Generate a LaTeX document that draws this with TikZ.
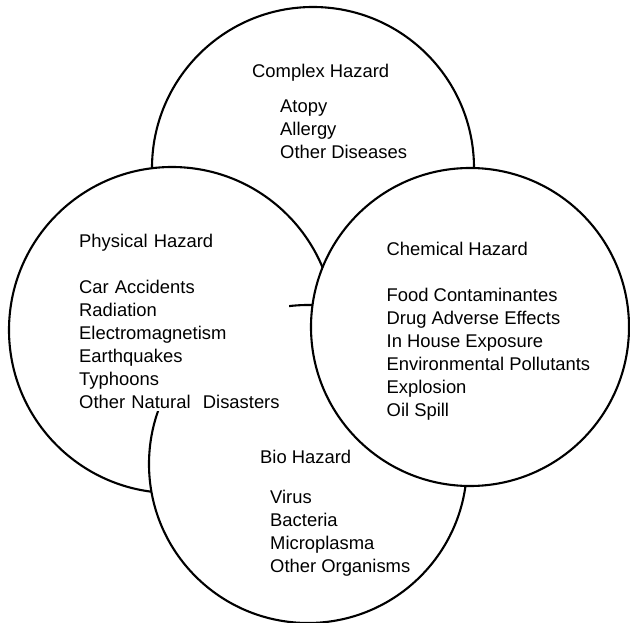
\documentclass[tikz,border=0pt]{standalone}
\usepackage{fontspec}
\setmainfont{Liberation Sans}
\begin{document}
\begin{tikzpicture}[x=1pt,y=-1pt,
  hazard/.style={circle, draw=black, fill=white, line width=2.1pt, inner sep=0pt, minimum size=#1},
  label/.style={font=\fontsize{18.4}{23}\selectfont, align=left, inner sep=0pt, anchor=base west},
]
\useasboundingbox (0,0) rectangle (630,623);
% the four hazard circles, stacked back to front
\node[hazard=322pt] (complex) at (313,168) {};
\node[hazard=326pt] (physical) at (172,330) {};
\node[hazard=318pt] (bio) at (308,464) {};
% the physical list sits on a white panel over the bio circle
% (a fixed text width puts its base on the first line)
\node[label, fill=white, text width=210pt, inner ysep=2pt] (physicaltext) at (79,247.5)
  {Physical Hazard\\[23pt]Car Accidents\\Radiation\\Electromagnetism\\Earthquakes\\Typhoons\\Other Natural\ \ Disasters};
\node[hazard=318pt] (chemical) at (470,327) {};
% labels; multi-line ones are placed by the baseline of their last line
\node[label] (complexhead) at (252,78) {Complex Hazard};
\node[label] (complexlist) at (280,158.5) {Atopy\\Allergy\\Other Diseases};
\node[label] (chemicaltext) at (386.5,416)
  {Chemical Hazard\\[23pt]Food Contaminantes\\Drug Adverse Effects\\In House Exposure\\Environmental Pollutants\\Explosion\\Oil Spill};
\node[label] (biohead) at (260,463.5) {Bio Hazard};
\node[label] (biolist) at (270,572) {Virus\\Bacteria\\Microplasma\\Other Organisms};
\end{tikzpicture}
\end{document}
